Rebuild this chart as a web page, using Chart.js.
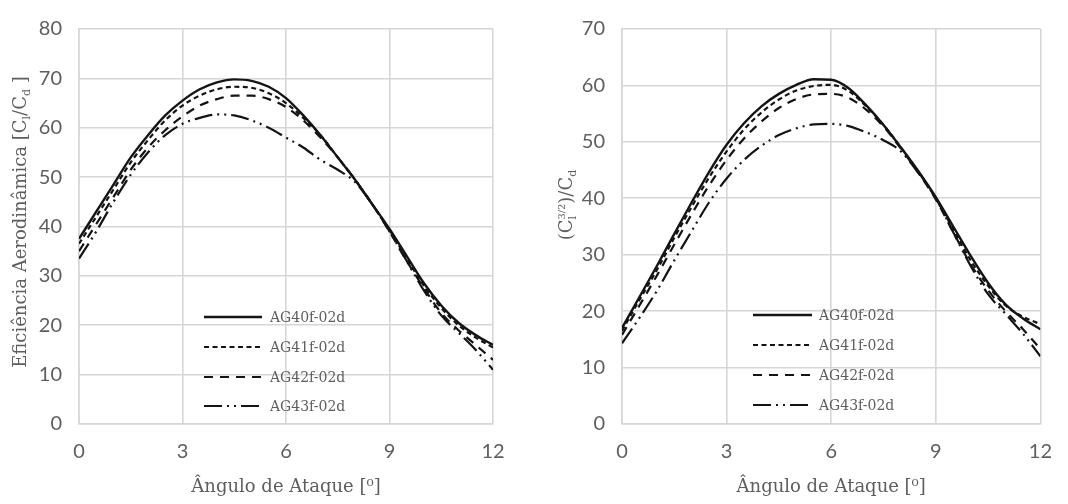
<!DOCTYPE html>
<html>
<head>
<meta charset="utf-8">
<script src="https://cdn.jsdelivr.net/npm/chart.js@4.4.1/dist/chart.umd.min.js"></script>
<style>
  html, body { margin: 0; padding: 0; background: #ffffff; }
  #wrap { display: flex; width: 1068px; height: 504px; }
  .box { position: relative; width: 534px; height: 504px; }
</style>
</head>
<body>
<div id="wrap">
  <div class="box"><canvas id="c1" width="534" height="504"></canvas></div>
  <div class="box"><canvas id="c2" width="534" height="504"></canvas></div>
</div>
<script>
// ---------- data ----------
const angles = [0,0.5,1,1.5,2,2.5,3,3.5,4,4.5,5,5.5,6,6.5,7,7.5,8,8.5,9,9.5,10,10.5,11,11.5,12];
const seriesNames = ["AG40f-02d","AG41f-02d","AG42f-02d","AG43f-02d"];

// Left: aerodynamic efficiency Cl/Cd
const eff_AG40 = [37.5,43,48.5,54,58.5,62.5,65.5,67.8,69.2,69.8,69.5,68.3,66,62.5,58.5,54,49.5,44.5,39.5,34,28.5,24,20.5,18,16];
const eff_AG41 = [36.5,42,47.5,53,57.5,61.5,64.5,66.5,67.8,68.3,68.1,67,65,62,58.5,54,49.5,44.5,39.3,33.5,28,23.5,20,17.5,15.5];
const eff_AG42 = [35,40.5,46,51.5,56,59.5,62.3,64.5,65.8,66.5,66.5,65.8,64.2,61.5,58,54,49.5,44.5,39,33,27.5,22.5,19,16,13];
const eff_AG43 = [33.5,39,45,50.5,55,58.5,60.8,62,62.7,62.5,61.5,60,58,56,53.5,51.5,49,44.5,39,33,27,22,18.5,15,11];

// Right: Cl^(3/2)/Cd
const pow_AG40 = [17,22.5,28,33.7,39.3,44.7,49.5,53.3,56.3,58.5,60.1,61.1,61,59.5,56.5,53,49,44.8,40.2,35,29.8,25,21.2,18.7,16.8];
const pow_AG41 = [16.5,22,27.3,33,38.5,43.7,48.3,52.2,55.2,57.5,59.1,59.9,60.1,59,56.3,53,49,44.7,40,34.5,29,24.5,21,19,17.7];
const pow_AG42 = [15.8,21,26.3,31.8,37.2,42.3,46.8,50.6,53.6,56,57.6,58.4,58.5,57.8,55.7,52.7,48.8,44.5,39.8,34,28.3,23.7,20,16.8,13.3];
const pow_AG43 = [14.3,18.8,23.6,29,34.2,39.3,43.5,46.8,49.3,51.2,52.4,53.1,53.2,52.8,51.7,50.3,48.3,44.5,40,34,28,23,19.5,16,12];

const xTicks = [0,3,6,9,12];
const yTicksLeft = [0,10,20,30,40,50,60,70,80];
const yTicksRight = [0,10,20,30,40,50,60,70];

// ---------- styling ----------
const TXT = "#5e5e5e";
const GRID = "#d6d6d6";
const LINE = "#141414";
const dashes = [[], [5,3.5], [9,7], [18,5,2,5,2,5]];
const SERIF = "'DejaVu Serif', serif";
const SANS = "Lato, 'Open Sans', sans-serif";

function pts(arr) { return angles.map((a, i) => ({x: a, y: arr[i]})); }

function makeDatasets(list) {
  return list.map((arr, i) => ({
    label: seriesNames[i],
    data: pts(arr),
    borderColor: LINE,
    backgroundColor: LINE,
    borderWidth: i === 0 ? 2.4 : 2.2,
    borderDash: dashes[i],
    pointRadius: 0,
    fill: false,
    tension: 0.4,
    cubicInterpolationMode: 'monotone'
  }));
}

// custom legend inside plot
const insideLegend = {
  id: 'insideLegend',
  afterDraw(chart, args, opts) {
    const ctx = chart.ctx;
    ctx.save();
    chart.data.datasets.forEach((ds, i) => {
      const y = opts.rows[i];
      ctx.beginPath();
      ctx.setLineDash(ds.borderDash || []);
      ctx.strokeStyle = ds.borderColor;
      ctx.lineWidth = ds.borderWidth;
      ctx.moveTo(opts.x0, y);
      ctx.lineTo(opts.x1, y);
      ctx.stroke();
      ctx.setLineDash([]);
      ctx.fillStyle = TXT;
      ctx.font = "14px " + SERIF;
      ctx.textBaseline = 'middle';
      ctx.textAlign = 'left';
      ctx.fillText(ds.label, opts.tx, y + 1);
    });
    ctx.restore();
  }
};

// rotated y title with sub/superscripts
const richYTitle = {
  id: 'richYTitle',
  afterDraw(chart, args, opts) {
    const ctx = chart.ctx;
    const fs = opts.size;
    ctx.save();
    ctx.fillStyle = TXT;
    ctx.textBaseline = 'alphabetic';
    ctx.textAlign = 'left';
    const widths = opts.parts.map(p => {
      let w = 0;
      p.forEach(s => {
        ctx.font = (fs * (s.scale || 1)) + "px " + SERIF;
        w = Math.max(w, ctx.measureText(s.t).width);
      });
      return w;
    });
    const total = widths.reduce((a, b) => a + b, 0);
    ctx.translate(opts.x, opts.y);
    ctx.rotate(-Math.PI / 2);
    let cx = -total / 2;
    opts.parts.forEach((p, i) => {
      p.forEach(s => {
        ctx.font = (fs * (s.scale || 1)) + "px " + SERIF;
        ctx.fillText(s.t, cx, fs * 0.35 + (s.dy || 0) * fs);
      });
      cx += widths[i];
    });
    ctx.restore();
  }
};

function makeChart(id, datasets, yMax, yTicks, yWidth, padRight, legendOpts, titleOpts) {
  return new Chart(document.getElementById(id), {
    type: 'line',
    data: { datasets },
    plugins: [insideLegend, richYTitle],
    options: {
      responsive: false,
      animation: false,
      layout: { padding: { top: 19, right: padRight, left: 0, bottom: 0 } },
      plugins: {
        legend: { display: false },
        tooltip: { enabled: false },
        insideLegend: legendOpts,
        richYTitle: titleOpts
      },
      scales: {
        x: {
          type: 'linear', min: 0, max: 12,
          afterBuildTicks(s) { s.ticks = xTicks.map(v => ({value: v})); },
          afterFit(s) { s.height = 80; },
          grid: { color: GRID, lineWidth: 1.6, drawTicks: false },
          border: { color: GRID, width: 1.6 },
          ticks: { color: TXT, font: { family: SANS, size: 20 }, padding: 16, maxRotation: 0 },
          title: {
            display: true, text: "Ângulo de Ataque [⁰]", color: TXT,
            font: { family: SERIF, size: 18 }, padding: { top: 0, bottom: 6 }
          }
        },
        y: {
          type: 'linear', min: 0, max: yMax,
          afterBuildTicks(s) { s.ticks = yTicks.map(v => ({value: v})); },
          afterFit(s) { s.width = yWidth; },
          grid: { color: GRID, lineWidth: 1.6, drawTicks: false },
          border: { color: GRID, width: 1.6 },
          ticks: { color: TXT, font: { family: SANS, size: 20 }, padding: 17 }
        }
      }
    }
  });
}

makeChart('c1', makeDatasets([eff_AG40, eff_AG41, eff_AG42, eff_AG43]), 80, yTicksLeft, 79, 41,
  { x0: 204, x1: 262, tx: 270, rows: [317, 347, 377, 406] },
  { x: 20, y: 222, size: 18, parts: [
      [{t: "Eficiência Aerodinâmica [C"}],
      [{t: "l", scale: 0.62, dy: 0.22}],
      [{t: "/C"}],
      [{t: "d", scale: 0.62, dy: 0.22}],
      [{t: " ]"}]
  ]});

makeChart('c2', makeDatasets([pow_AG40, pow_AG41, pow_AG42, pow_AG43]), 70, yTicksRight, 88, 27,
  { x0: 219, x1: 278, tx: 285, rows: [315, 345, 375, 405] },
  { x: 32, y: 205, size: 18, parts: [
      [{t: "(C"}],
      [{t: "3/2", scale: 0.55, dy: -0.42}, {t: "l", scale: 0.62, dy: 0.22}],
      [{t: ")/C"}],
      [{t: "d", scale: 0.62, dy: 0.22}]
  ]});
</script>
</body>
</html>
